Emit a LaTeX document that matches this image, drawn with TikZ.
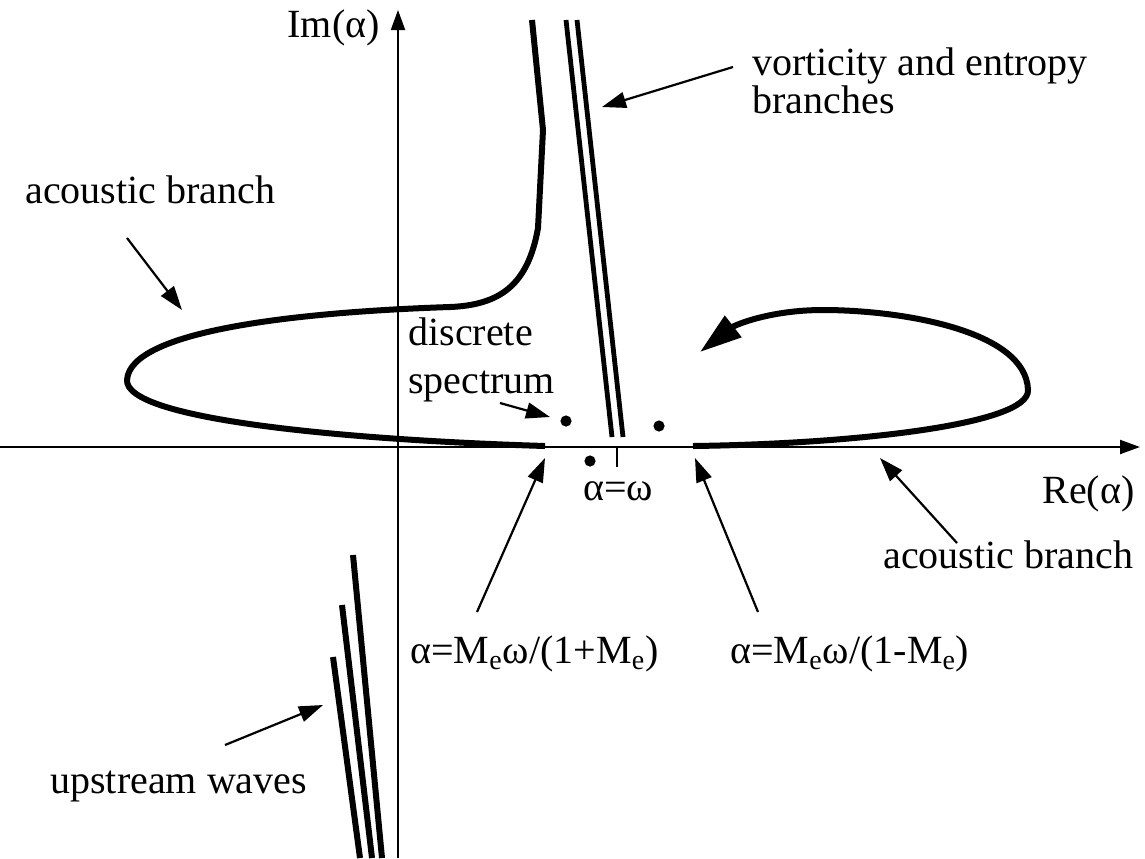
\documentclass[tikz,border=0pt]{standalone}
\usepackage{fontspec}
\setmainfont{Liberation Serif}
\usetikzlibrary{arrows.meta}

\begin{document}
\begin{tikzpicture}[x=0.5pt,y=-0.5pt,
    txt/.style={font=\fontsize{20}{24}\selectfont,inner sep=0pt,anchor=base west},
    branch/.style={line width=3pt,line join=round},
    axis/.style={line width=1pt,-{Triangle[length=10pt,width=7pt]}},
    pointer/.style={line width=1.1pt,-{Triangle[length=12pt,width=8pt]}}]
                \useasboundingbox (0,0) rectangle (1145,858);
                % axes
                \coordinate (xl) at (0,447);
                \coordinate (xr) at (1140,447);
                \coordinate (yb) at (398,858);
                \coordinate (yt) at (398,10);
                \draw[axis](xl)--(xr);
                \draw[axis](yb)--(yt);
                \node[txt,anchor=base east](im) at (380,37){Im(α)};
                \node[txt](re) at (1042,503){Re(α)};
                % acoustic branch, left lobe
                \draw[branch](532,20)--(543,130)--(538,228)
                    .. controls (528,285) and (500,305) .. (450,307)
                    .. controls (300,312) and (130,330) .. (127,380)
                    .. controls (125,420) and (350,440) .. (545,446);
                % acoustic branch, right lobe
                \draw[branch,-{Triangle[length=21pt,width=13pt]}](693,446)
                    .. controls (850,444) and (1030,425) .. (1028,390)
                    .. controls (1026,330) and (900,310) .. (823,310)
                    .. controls (770,310) and (735,325) .. (700,352);
                % vorticity and entropy
                \draw[line width=2.4pt](566,20)--(612,437);
                \draw[line width=2.4pt](577,20)--(623,437);
                % upstream waves
                \draw[line width=3pt](353,555)--(382,858);
                \draw[line width=3pt](342,605)--(372,858);
                \draw[line width=3pt](333,657)--(360,858);
                % discrete spectrum
                \fill (566,421) circle (2.8pt);
                \fill (659,426) circle (2.8pt);
                \fill (590,461) circle (2.8pt);
                \draw[line width=1pt](617,447)--(617,467);
                \node[txt](aw) at (583,500){α=ω};
                % labels
                \node[txt](acl) at (25,203){acoustic branch};
                \node[txt](acr) at (883,568){acoustic branch};
                \node[txt](vort) at (752,75){vorticity and entropy};
                \node[txt](vortb) at (752,113){branches};
                \node[txt](disc) at (408,345){discrete};
                \node[txt](spec) at (408,393){spectrum};
                \node[txt](mplus) at (410,663){α=M\textsubscript{e}ω/(1+M\textsubscript{e})};
                \node[txt](mminus) at (730,663){α=M\textsubscript{e}ω/(1-M\textsubscript{e})};
                \node[txt](up) at (50,793){upstream waves};
                % pointers
                \coordinate (acl0) at (127,238);
                \coordinate (acl1) at (182,310);
                \coordinate (vort0) at (733,67);
                \coordinate (vort1) at (602,107);
                \coordinate (spec0) at (500,403);
                \coordinate (spec1) at (550,417);
                \coordinate (mplus0) at (477,612);
                \coordinate (mplus1) at (545,458);
                \coordinate (mminus0) at (758,612);
                \coordinate (mminus1) at (695,458);
                \coordinate (acr0) at (957,543);
                \coordinate (acr1) at (880,458);
                \coordinate (up0) at (225,745);
                \coordinate (up1) at (323,705);
                \draw[pointer](acl0)--(acl1);
                \draw[pointer](vort0)--(vort1);
                \draw[pointer](spec0)--(spec1);
                \draw[pointer](mplus0)--(mplus1);
                \draw[pointer](mminus0)--(mminus1);
                \draw[pointer](acr0)--(acr1);
                \draw[pointer](up0)--(up1);
            \end{tikzpicture}
\end{document}
